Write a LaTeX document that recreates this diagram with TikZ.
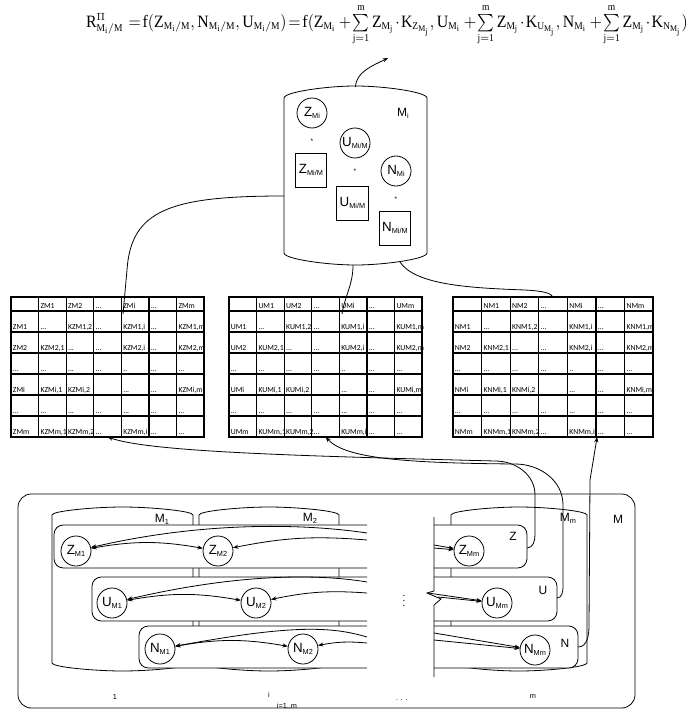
\documentclass[tikz,border=0pt]{standalone}
\usepackage{amsmath}
\usepackage{graphicx}
\usepackage{fontspec}
\setmainfont{Liberation Serif}
\setsansfont{Liberation Sans}
\setmathrm{Liberation Serif}
\newfontfamily\tabfont{Carlito}
\usepackage{tikz}
\usetikzlibrary{arrows.meta}
\DeclareMathSizes{10}{10}{6}{5}

\newcommand{\idx}[1]{\raisebox{-0.35ex}{\fontsize{5.5}{6}\selectfont #1}}
\newcommand{\dd}{...}
\newcommand{\sumj}{\sum\limits_{\mathrm{j=1}}^{\mathrm{m}}}

\tikzset{
  elem/.style={draw, circle, fill=white, minimum size=22.5pt, inner sep=0pt,
               font=\sffamily\fontsize{10}{12}\selectfont},
  elembox/.style={draw, fill=white, minimum width=23.5pt, minimum height=25.5pt,
                  inner sep=0pt, font=\sffamily\fontsize{10}{12}\selectfont},
  mult/.style={inner sep=0pt, font=\sffamily\fontsize{5}{5}\selectfont},
  rowbox/.style={draw, fill=white, rounded corners=7pt},
  barrel/.style={draw, fill=white},
  link/.style={-{Stealth[length=4pt, width=3pt]}},
  duallink/.style={{Stealth[length=4pt, width=3pt]}-{Stealth[length=4pt, width=3pt]}},
  tabbox/.style={draw, line width=1.1pt, minimum height=105pt, inner sep=0pt, outer sep=0pt},
  tabline/.style={line width=1pt},
  celltext/.style={anchor=base west, inner sep=0pt, font=\tabfont\fontsize{5.8}{6}\selectfont},
  setlabel/.style={inner sep=1pt, font=\sffamily\fontsize{9}{10}\selectfont},
  tinylabel/.style={inner sep=1pt, font=\sffamily\fontsize{5.5}{6}\selectfont}
}

% barrel outline: left x, right x, y of top corners, y of bottom corners, bulge
\newcommand{\barrel}[5]{%
  \draw[barrel] (#1,#4) -- (#1,#3)
    .. controls (#1,#3+0.5*#5) and ({#1+0.3*(#2-#1)},#3+#5) .. ({0.5*(#1+#2)},#3+#5)
    .. controls ({#2-0.3*(#2-#1)},#3+#5) and (#2,#3+0.5*#5) .. (#2,#3)
    -- (#2,#4)
    .. controls (#2,#4-0.5*#5) and ({#2-0.3*(#2-#1)},#4-#5) .. ({0.5*(#1+#2)},#4-#5)
    .. controls ({#1+0.3*(#2-#1)},#4-#5) and (#1,#4-0.5*#5) .. cycle;}

% one row of a coefficient table (y of row bottom, seven cells)
\newcommand{\cellrow}[8]{%
  \foreach \t [count=\k from 0] in {{#2},{#3},{#4},{#5},{#6},{#7},{#8}}
    \node[celltext] at (\tabx+\k*\tabw+1.5,-#1+3) {\t};}

% coefficient table: name, letter, left x, column width
\newcommand{\ktable}[4]{%
  \def\tabx{#3}\def\tabw{#4}%
  \node[tabbox, minimum width=#4*5.25pt, anchor=north west] (#1) at (#3,-297) {};
  \foreach \c in {1,...,6} \draw[tabline] (#3+\c*#4,-297) -- ++(0,-140);
  \foreach \y in {311,332,...,416} \draw[tabline] (#3,-\y) -- ++(7*#4,0);
  \cellrow{311}{\relax}{#2M1}{#2M2}{\dd}{#2Mi}{\dd}{#2Mm}
  \cellrow{332}{#2M1}{\dd}{K#2M1,2}{\dd}{K#2M1,i}{\dd}{K#2M1,m}
  \cellrow{353}{#2M2}{K#2M2,1}{\dd}{\dd}{K#2M2,i}{\dd}{K#2M2,m}
  \cellrow{374}{\dd}{\dd}{\dd}{\dd}{..}{\dd}{\dd}
  \cellrow{395}{#2Mi}{K#2Mi,1}{K#2Mi,2}{\relax}{\dd}{\dd}{K#2Mi,m}
  \cellrow{416}{\dd}{\dd}{\dd}{\dd}{\dd}{\dd}{\dd}
  \cellrow{437}{#2Mm}{K#2Mm,1}{K#2Mm,2}{\dd}{K#2Mm,i}{\dd}{\dd}}

\begin{document}
\begin{tikzpicture}[x=0.75pt, y=0.75pt, line width=0.6pt]
\useasboundingbox (0,0) rectangle (690,-713);

% Formula (top)
\node (fml) at (387,-25) {\scalebox{1.19}[1.3]{\thickmuskip=2mu\medmuskip=1.5mu$
  \mathrm{R}^{\Pi}_{\mathrm{M_i/M}}\;\;=\mathrm{f(Z_{M_i/M},N_{M_i/M},U_{M_i/M})=f(Z_{M_i}}
  \;+\sumj\mathrm{Z_{M_j}}\cdot\mathrm{K_{Z_{M_j}}},\mathrm{U_{M_i}}
  \;+\sumj\mathrm{Z_{M_j}}\cdot\mathrm{K_{U_{M_j}}},\mathrm{N_{M_i}}
  \;+\sumj\mathrm{Z_{M_j}}\cdot\mathrm{K_{N_{M_j}}})$}};
\coordinate (sumZ) at (388,-58);

% Object M_i
\barrel{284}{427}{-98}{-253}{12}
\coordinate (Mitop) at (355.5,-87);
\coordinate (Mileft) at (284,-196);
\coordinate (Mibot) at (353,-265);
\coordinate (Miright) at (400,-262);
\node[setlabel] (Milab) at (403,-113) {M\idx{i}};
\node[elem] (ZMi) at (312,-113) {Z\idx{Mi}};
\node[mult] (m1) at (312,-141) {*};
\node[elembox] (ZMiM) at (311,-170) {Z\idx{Mi/M}};
\node[elem] (UMiM) at (355,-143) {U\idx{Mi/M}};
\node[mult] (m2) at (355,-171) {*};
\node[elembox] (UMiMb) at (352.5,-203) {U\idx{Mi/M}};
\node[elem] (NMi) at (396,-171) {N\idx{Mi}};
\node[mult] (m3) at (396,-199) {*};
\node[elembox] (NMiM) at (395,-228) {N\idx{Mi/M}};

% Coefficient tables
\ktable{ztab}{Z}{11}{27.6}
\ktable{utab}{U}{229}{27.6}
\ktable{ntab}{N}{453}{28.6}
\coordinate (zhead) at (123,-314);
\coordinate (uhead) at (342,-314);
\coordinate (nhead) at (553,-297);

% Links M_i -> formula, tables
\draw[link] (Mitop) .. controls (356,-72) and (372,-66) .. (sumZ);
\draw (Mileft) .. controls (170,-196) and (131,-210) .. (127,-270) -- (zhead);
\draw (Mibot) .. controls (353,-285) and (345,-295) .. (uhead);
\draw (Miright) .. controls (415,-285) and (470,-288) .. (525,-290)
      .. controls (543,-291) and (551,-293) .. (nhead);

% Set M with objects M_1 .. M_m
\node[draw, rounded corners=10pt, minimum width=462.75pt, minimum height=160.5pt]
  (Mset) at (326.5,-601) {};
\node[setlabel] (Mlab) at (618,-519) {M};
\barrel{52}{193}{-515}{-663}{8}
\barrel{199}{339}{-515}{-663}{8}
\barrel{451}{587}{-515}{-663}{8}
\node[setlabel] (M1lab) at (162,-519) {M\idx{1}};
\node[setlabel] (M2lab) at (310,-518) {M\idx{2}};
\node[setlabel] (Mmlab) at (568,-518) {M\idx{m}};

% Rows Z, U, N (left part)
\filldraw[rowbox] (367,-525) -- (54,-525) -- (54,-568) -- (367,-568);
\filldraw[rowbox] (367,-577) -- (92,-577) -- (92,-621) -- (367,-621);
\filldraw[rowbox] (367,-626) -- (139,-626) -- (139,-668) -- (367,-668);
% Rows Z, U, N (right part)
\filldraw[rowbox] (434,-525) -- (527,-525) -- (527,-568) -- (434,-568);
\filldraw[rowbox] (434,-577) -- (557,-577) -- (557,-621) -- (434,-621);
\filldraw[rowbox] (434,-626) -- (578,-626) -- (578,-668) -- (434,-668);
\draw (434,-517) -- (434,-591) -- (427,-593) -- (441,-599) -- (434,-605) -- (434,-677);
\node (brkdots) at (404,-597) {\fontsize{8}{8}\selectfont$\vdots$};
\node[setlabel] (zlab) at (513,-536) {Z};
\node[setlabel] (ulab) at (543,-590) {U};
\node[setlabel] (nlab) at (565,-643) {N};

% Elements
\node[elem] (Z1) at (76,-551) {Z\idx{M1}};
\node[elem] (Z2) at (218,-551) {Z\idx{M2}};
\node[elem] (Zm) at (469,-551) {Z\idx{Mm}};
\node[elem] (U1) at (112,-603) {U\idx{M1}};
\node[elem] (U2) at (256,-603) {U\idx{M2}};
\node[elem] (Um) at (497,-603) {U\idx{Mm}};
\node[elem] (N1) at (160,-649) {N\idx{M1}};
\node[elem] (N2) at (303,-649) {N\idx{M2}};
\node[elem] (Nm) at (535,-650) {N\idx{Mm}};

% Cut ends of the links
\coordinate (zcut1) at (367,-533); \coordinate (zcut2) at (367,-540);
\coordinate (ucut1) at (367,-582); \coordinate (ucut2) at (367,-593);
\coordinate (ncut1) at (367,-637); \coordinate (ncut2) at (367,-643);
\coordinate (zin1) at (434,-545); \coordinate (zin2) at (434,-548);
\coordinate (uin1) at (428,-593); \coordinate (uin2) at (438,-597);
\coordinate (nin1) at (434,-633); \coordinate (nin2) at (434,-640);

% Links inside rows
\draw[duallink] (Z1) to[bend left=10] (Z2);
\draw[duallink] (U1) to[bend left=10] (U2);
\draw[duallink] (N1) to[bend left=10] (N2);
\draw[link] (zcut1) .. controls (300,-523) and (200,-522) .. (Z1);
\draw[link] (ucut1) .. controls (320,-574) and (240,-573) .. (U1);
\draw[link] (ncut1) .. controls (330,-626) and (290,-625) .. (N1);
\draw[link] (zcut2) to[bend right=8] (Z2);
\draw[link] (ucut2) to[bend right=8] (U2);
\draw[link] (ncut2) to[bend right=8] (N2);
\draw[link] (zin1) -- (Zm);
\draw[link] (zin2) -- (Zm);
\draw[link] (uin1) -- (Um);
\draw[link] (uin2) -- (Um);
\draw[link] (nin1) -- (Nm);
\draw[link] (nin2) -- (Nm);

% Links rows -> tables
\coordinate (zout) at (527,-548);
\coordinate (uout) at (557,-598);
\coordinate (nout) at (578,-647);
\draw[link] (zout) to[out=0,in=-90] (535,-535) -- (535,-495) to[out=90,in=0] (495,-461)
      .. controls (300,-456) and (150,-452) .. (ztab.south);
\draw[link] (uout) to[out=0,in=-90] (563,-587) -- (563,-505) to[out=90,in=0] (515,-464)
      .. controls (400,-463) and (345,-458) .. (utab.south);
\draw[link] (nout) to[out=0,in=-90] (589,-625) -- (590,-480) -- ([xshift=33pt]ntab.south);

% Index labels
\node[tinylabel] (c1) at (115,-697) {1};
\node[tinylabel] (ci) at (269,-695) {i};
\node[tinylabel] (crange) at (287,-706) {i=1..m};
\node[tinylabel] (cdots) at (402,-700) {. . .};
\node[tinylabel] (cm) at (533,-697) {m};

\end{tikzpicture}
\end{document}
